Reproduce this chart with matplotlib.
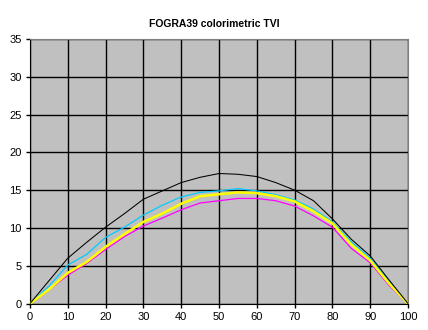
import matplotlib
matplotlib.use("Agg")
import matplotlib.pyplot as plt

# === Data ===
tone = [0, 5, 10, 15, 20, 25, 30, 35, 40, 45, 50, 55, 60, 65, 70, 75, 80, 85, 90, 95, 100]
tvi_k = [0, 3.0, 6.0, 8.1, 10.1, 11.9, 13.8, 14.9, 16.0, 16.7, 17.2, 17.1, 16.8, 16.0, 15.0, 13.6, 11.2, 8.5, 6.3, 3.1, 0]
tvi_c = [0, 2.3, 5.1, 6.5, 8.75, 10.1, 11.7, 13.0, 14.1, 14.7, 14.9, 15.2, 14.9, 14.4, 13.7, 12.5, 10.8, 8.15, 6.0, 2.9, 0]
tvi_y = [0, 1.85, 4.06, 5.5, 7.5, 9.2, 10.8, 11.9, 13.2, 14.2, 14.45, 14.7, 14.6, 14.2, 13.5, 12.2, 10.6, 7.8, 5.7, 2.65, 0]
tvi_m = [0, 1.8, 3.75, 5.3, 7.15, 8.85, 10.25, 11.3, 12.4, 13.3, 13.6, 13.9, 13.9, 13.6, 12.9, 11.6, 10.1, 7.3, 5.4, 2.4, 0]

xticks = list(range(0, 101, 10))
yticks = list(range(0, 36, 5))

plt.rcParams["font.family"] = ["Liberation Sans", "DejaVu Sans"]

fig = plt.figure(figsize=(4.28, 3.30), dpi=100)
ax = fig.add_axes([30 / 428, 1 - 303.5 / 330, 378 / 428, 264.5 / 330])
ax.set_facecolor("#c0c0c0")

ax.plot(tone, tvi_c, color="#00ccff", lw=0.9, zorder=3)
ax.plot(tone, tvi_y, color="#ffff00", lw=1.8, zorder=4)
ax.plot(tone, tvi_m, color="#ff00ff", lw=0.9, zorder=3)
ax.plot(tone, tvi_k, color="black", lw=0.75, zorder=5)

ax.set_xlim(0, 100)
ax.set_ylim(0, 35)
ax.set_xticks(xticks)
ax.set_yticks(yticks)
ax.grid(True, color="black", lw=1.0, zorder=1)
ax.set_axisbelow(True)
ax.tick_params(direction="out", length=3, width=1, labelsize=8, pad=3)

for side in ["top", "right"]:
    ax.spines[side].set_color("#808080")
for side in ["left", "bottom"]:
    ax.spines[side].set_color("black")

fig.text(214 / 428, 1 - 24 / 330, "FOGRA39 colorimetric TVI", ha="center", va="center",
         fontsize=7.5, fontweight="bold")

fig.savefig("out.png", dpi=100)
